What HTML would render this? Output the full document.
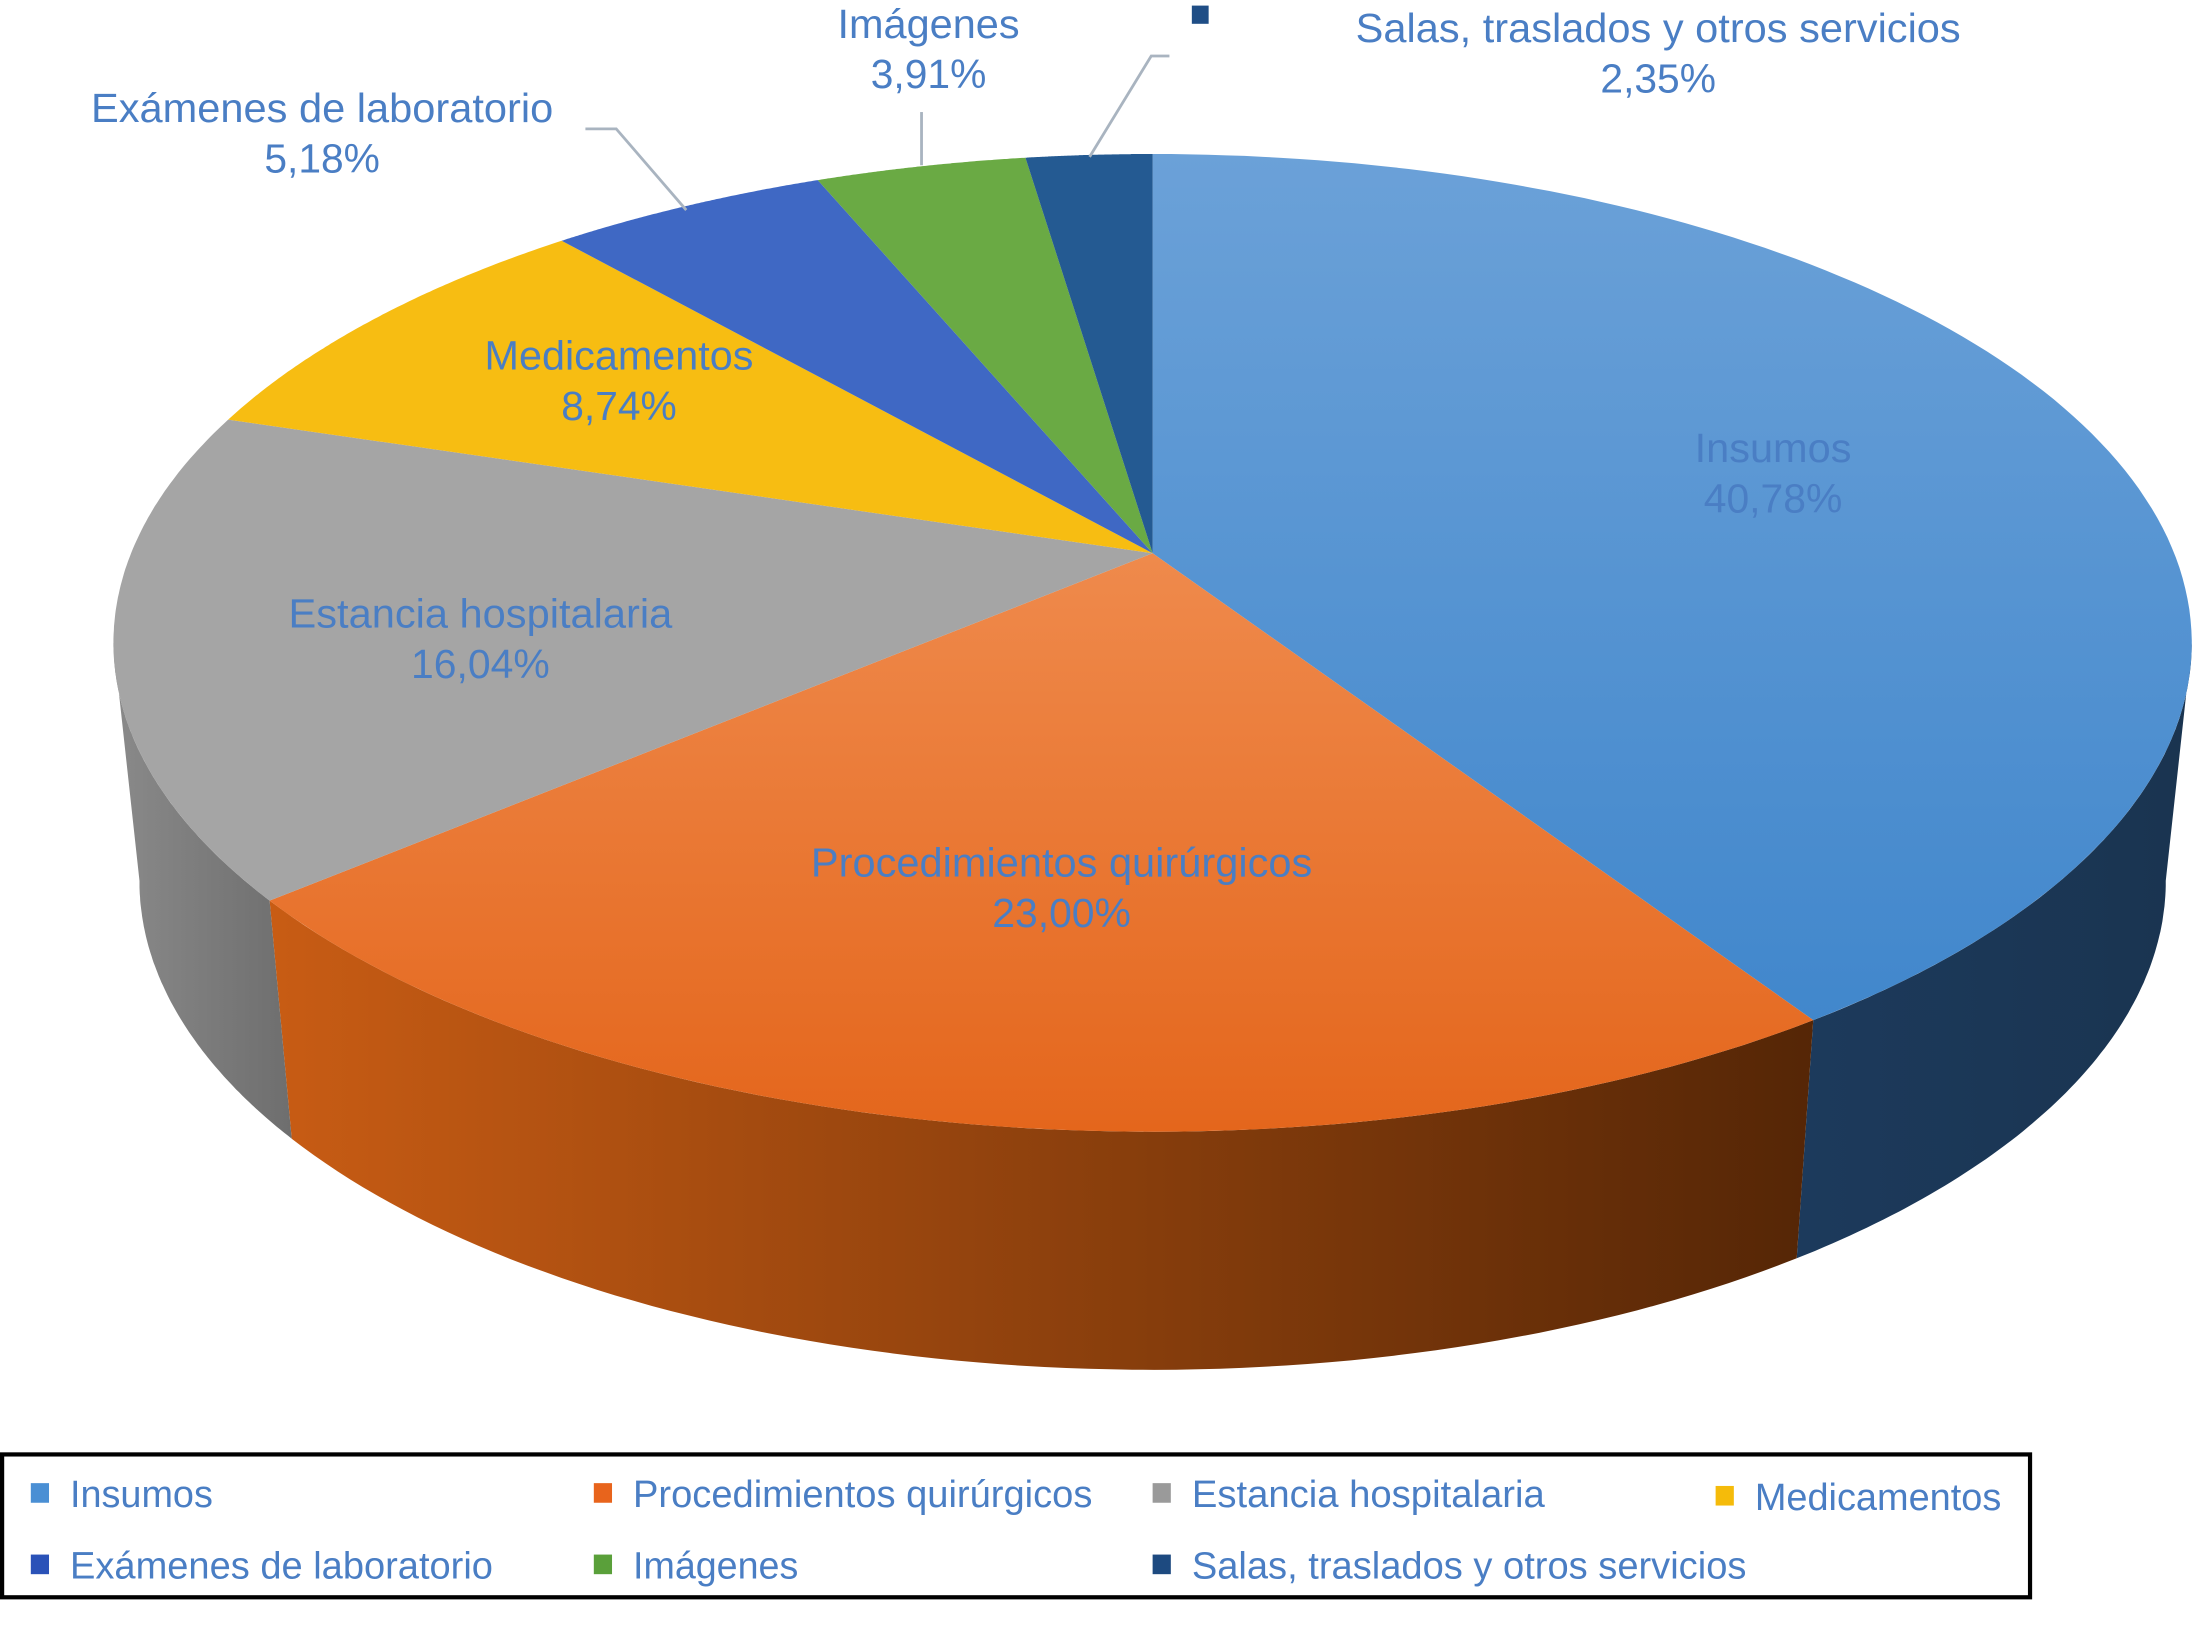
<!DOCTYPE html>
<html><head><meta charset="utf-8">
<style>
html,body{margin:0;padding:0;background:#fff;}
svg{display:block;}
text{font-family:"Liberation Sans",sans-serif;fill:#4a7ec4;}
</style></head>
<body>
<svg id="chart" width="2196" height="1633" viewBox="0 0 1568 1166" preserveAspectRatio="none" xmlns="http://www.w3.org/2000/svg">
<defs>
<linearGradient id="gOrangeSide" x1="0" x2="1" y1="0" y2="0">
<stop offset="0" stop-color="#c85c14"/><stop offset="1" stop-color="#552606"/></linearGradient>
<linearGradient id="gBlueSide" x1="0" x2="1"><stop offset="0" stop-color="#1c3a5c"/><stop offset="1" stop-color="#1a3450"/></linearGradient>
<linearGradient id="gGraySide" x1="0" x2="1"><stop offset="0" stop-color="#8a8a8a"/><stop offset="1" stop-color="#6e6e6e"/></linearGradient>
<linearGradient id="gBlueTop" x1="0" x2="0" y1="0" y2="1"><stop offset="0" stop-color="#6ba1d8"/><stop offset="1" stop-color="#4187cc"/></linearGradient>
<linearGradient id="gOrangeTop" x1="0" x2="0" y1="0" y2="1"><stop offset="0" stop-color="#ef8a4c"/><stop offset="1" stop-color="#e4661c"/></linearGradient>
</defs>
<g id="sides"></g>
<g id="tops"></g>
<g id="labels"></g>
<g stroke="#a9b4c0" stroke-width="2" fill="none">
<polyline points="418,92 440,92 490,150"/>
<polyline points="658,80 658,118"/>
<polyline points="835,40 822,40 778,112"/>
</g>
<rect x="851" y="4" width="12" height="13" fill="#1f4e86"/>
<g>
<rect x="1.5" y="1038.5" width="1448" height="102" fill="#fff" stroke="#000" stroke-width="3"/>
<g id="legendItems"></g>
</g>
</svg>
<script>
const categories = ["Insumos","Procedimientos quirúrgicos","Estancia hospitalaria","Medicamentos","Exámenes de laboratorio","Imágenes","Salas, traslados y otros servicios"];
const values = [40.78, 23.00, 16.04, 8.74, 5.18, 3.91, 2.35];
const valueLabels = ["40,78%","23,00%","16,04%","8,74%","5,18%","3,91%","2,35%"];

const topColors = ["url(#gBlueTop)","url(#gOrangeTop)","#a5a5a5","#f7bd12","#3f68c4","#6aaa44","#245a92"];
const sideColors = ["url(#gBlueSide)","url(#gOrangeSide)","url(#gGraySide)","#c79500","#2a4a94","#4a7a2c","#1a3a60"];
const swatchColors = ["#4a8fd4","#e8641c","#9a9a9a","#f5bb0a","#2a52b8","#5aa03a","#1d4a80"];
const labelPos = [[1266,330,112],[758,626,358],[343,448,274],[442,264,192],[230,87,330],[663,27,130],[1184,30,432]];
const legendPos = [[22,1067],[424,1067],[823,1067],[1225,1069],[22,1118],[424,1118],[823,1118]];
const legendW = [102,328,252,176,302,118,396];

const NS="http://www.w3.org/2000/svg";
const ax=823, ay=395, R=729.4, Q=337.3, K=0.1834, depth=170, bScale=0.975;
function pt(phi){const u=Math.cos(phi), w=1+K*u; return [ax+R*Math.sin(phi)/w, ay-Q*u/w];}
function angleScale(f){return f*2*Math.PI;}
const total=values.reduce((a,b)=>a+b,0);
const sides=document.getElementById('sides'), tops=document.getElementById('tops'), labels=document.getElementById('labels');
let cum=0;
const slices=[];
values.forEach((v,i)=>{const a0=angleScale(cum/total); cum+=v; const a1=angleScale(cum/total); slices.push([a0,a1]);});
const visA=Math.acos(-K), visB=2*Math.PI-Math.acos(-K);
slices.forEach(([a0,a1],i)=>{
  const s=Math.max(a0,visA), e=Math.min(a1,visB);
  if(e<=s) return;
  const N=80; let top=[],bot=[];
  for(let k=0;k<=N;k++){const t=s+(e-s)*k/N;const p=pt(t);top.push(p);bot.push([ax+(p[0]-ax)*bScale,p[1]+depth]);}
  let d="M"+top.map(p=>p[0].toFixed(1)+","+p[1].toFixed(1)).join(" L")+" L"+bot.reverse().map(p=>p[0].toFixed(1)+","+p[1].toFixed(1)).join(" L")+"Z";
  const path=document.createElementNS(NS,'path');
  path.setAttribute('d',d);path.setAttribute('fill',sideColors[i]);
  
  
  sides.appendChild(path);
});
slices.forEach(([a0,a1],i)=>{
  const N=120; let pts=[[ax,ay]];
  for(let k=0;k<=N;k++){pts.push(pt(a0+(a1-a0)*k/N));}
  const path=document.createElementNS(NS,'path');
  path.setAttribute('d',"M"+pts.map(p=>p[0].toFixed(1)+","+p[1].toFixed(1)).join(" L")+"Z");
  path.setAttribute('fill',topColors[i]);
  
  
  tops.appendChild(path);
});
categories.forEach((c,i)=>{
  const [x,y,w]=labelPos[i];
  const t1=document.createElementNS(NS,'text');
  t1.setAttribute('x',x);t1.setAttribute('y',y);t1.setAttribute('text-anchor','middle');
  t1.setAttribute('font-size','29');t1.setAttribute('textLength',w);t1.setAttribute('lengthAdjust','spacingAndGlyphs');
  t1.textContent=c;
  
  
  labels.appendChild(t1);
  const t2=document.createElementNS(NS,'text');
  t2.setAttribute('x',x);t2.setAttribute('y',y+36);t2.setAttribute('text-anchor','middle');
  t2.setAttribute('font-size','29');t2.setAttribute('textLength',valueLabels[i].length*16.5);t2.setAttribute('lengthAdjust','spacingAndGlyphs');
  t2.textContent=valueLabels[i];
  
  
  labels.appendChild(t2);
});
const lg=document.getElementById('legendItems');
categories.forEach((c,i)=>{
  const [x,y]=legendPos[i];
  const g=document.createElementNS(NS,'g');
  
  
  const r=document.createElementNS(NS,'rect');
  r.setAttribute('x',x);r.setAttribute('y',y-8);r.setAttribute('width',13);r.setAttribute('height',14);r.setAttribute('fill',swatchColors[i]);
  
  
  const t=document.createElementNS(NS,'text');
  t.setAttribute('x',x+28);t.setAttribute('y',y+9);t.setAttribute('font-size','27');
  t.setAttribute('textLength',legendW[i]);t.setAttribute('lengthAdjust','spacingAndGlyphs');
  t.textContent=c;
  
  
  g.appendChild(r);g.appendChild(t);lg.appendChild(g);
});
</script>
</body></html>
